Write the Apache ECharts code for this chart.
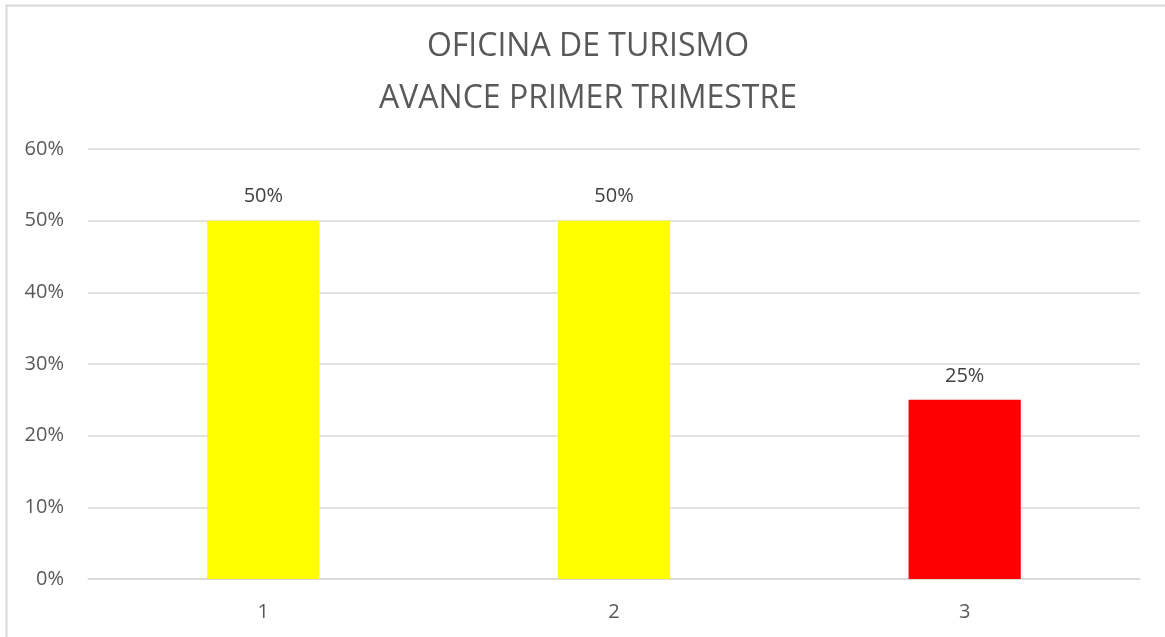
<!DOCTYPE html>
<html>
<head>
<meta charset="utf-8">
<title>Oficina de Turismo</title>
<script src="https://cdn.jsdelivr.net/npm/echarts@6/dist/echarts.min.js"></script>
<style>
  html, body { margin: 0; padding: 0; background: #fff; }
  #chart { width: 1165px; height: 637px; }
</style>
</head>
<body>
<div id="chart"></div>
<script>
// datos del grafico
var categorias = ['1', '2', '3'];
var avance = [50, 50, 25];
var colores = ['#FFFF00', '#FFFF00', '#FF0000'];
var ticksY = [0, 10, 20, 30, 40, 50, 60];

var myChart = echarts.init(document.getElementById('chart'));

myChart.setOption({
  animation: false,
  textStyle: { fontFamily: 'Open Sans' },
  graphic: [
    { // borde del area del grafico (solo arriba e izquierda visibles)
      type: 'rect',
      shape: { x: 6.5, y: 5.5, width: 1300, height: 800 },
      style: { fill: 'none', stroke: '#d9d9d9', lineWidth: 2 },
      silent: true
    },
    {
      type: 'text',
      x: 588,
      y: 21,
      style: {
        text: 'OFICINA DE TURISMO\nAVANCE PRIMER TRIMESTRE',
        fill: '#595959',
        font: '32px "Open Sans"',
        lineHeight: 52,
        align: 'center',
        textAlign: 'center'
      }
    }
  ],
  grid: {
    left: 88,
    right: 25,
    top: 149,
    bottom: 58
  },
  xAxis: {
    type: 'category',
    data: categorias,
    axisLine: { lineStyle: { color: '#d9d9d9', width: 1.5 } },
    axisTick: { show: false },
    axisLabel: { color: '#595959', fontSize: 20, margin: 23 }
  },
  yAxis: {
    type: 'value',
    min: ticksY[0],
    max: ticksY[ticksY.length - 1],
    interval: 10,
    axisLine: { show: false },
    axisTick: { show: false },
    splitLine: { lineStyle: { color: '#d9d9d9', width: 1.5 } },
    axisLabel: {
      color: '#595959',
      fontSize: 20,
      margin: 24,
      formatter: function (v) { return v + '%'; }
    }
  },
  series: [
    {
      type: 'bar',
      barCategoryGap: '68%',
      data: avance.map(function (v, i) {
        return { value: v, itemStyle: { color: colores[i] } };
      }),
      label: {
        show: true,
        position: 'top',
        distance: 14,
        color: '#404040',
        fontSize: 20,
        formatter: function (p) { return p.value + '%'; }
      }
    }
  ]
});
</script>
</body>
</html>
